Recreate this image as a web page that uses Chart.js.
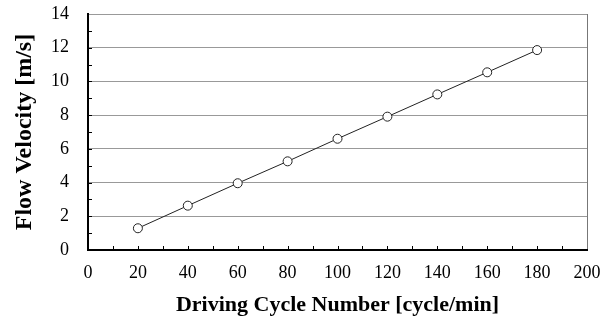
<!DOCTYPE html>
<html>
<head>
<meta charset="utf-8">
<script src="https://cdn.jsdelivr.net/npm/chart.js@4"></script>
<style>
  html, body { margin: 0; padding: 0; background: #fff; }
  #wrap { width: 610px; height: 323px; }
</style>
</head>
<body>
<div id="wrap"><canvas id="c" width="610" height="323"></canvas></div>
<script>
// Driving cycle number [cycle/min] vs. measured flow velocity [m/s]
const cycleNumbers = [20, 40, 60, 80, 100, 120, 140, 160, 180];
const flowVelocity = [1.29, 2.63, 3.96, 5.26, 6.60, 7.91, 9.23, 10.54, 11.86];
const xTickLabels = [0, 20, 40, 60, 80, 100, 120, 140, 160, 180, 200];
const yTickLabels = [0, 2, 4, 6, 8, 10, 12, 14];

const serif = "'Liberation Serif', 'Times New Roman', serif";

// small inward tick marks along the left and bottom axes
const minorTicks = {
  id: 'minorTicks',
  afterDatasetsDraw(chart) {
    const { ctx, scales: { x, y } } = chart;
    ctx.save();
    ctx.strokeStyle = '#000';
    ctx.lineWidth = 1;
    ctx.beginPath();
    for (let v = 10; v < 200; v += 10) {
      const px = Math.round(x.getPixelForValue(v)) + 0.5;
      ctx.moveTo(px, y.bottom);
      ctx.lineTo(px, y.bottom - 4);
    }
    for (let v = 1; v < 14; v += 1) {
      const py = Math.round(y.getPixelForValue(v)) + 0.5;
      ctx.moveTo(x.left, py);
      ctx.lineTo(x.left + 4, py);
    }
    ctx.stroke();
    ctx.restore();
  }
};

new Chart(document.getElementById('c'), {
  type: 'scatter',
  data: {
    datasets: [{
      data: cycleNumbers.map((c, i) => ({ x: c, y: flowVelocity[i] })),
      showLine: true,
      borderColor: '#222',
      borderWidth: 1,
      pointRadius: 4.5,
      pointHoverRadius: 4.5,
      pointBackgroundColor: '#fff',
      pointBorderColor: '#222',
      pointBorderWidth: 1
    }]
  },
  options: {
    responsive: false,
    animation: false,
    layout: { padding: { left: 0, right: 23, top: 14, bottom: 0 } },
    plugins: { legend: { display: false }, tooltip: { enabled: false } },
    scales: {
      x: {
        type: 'linear',
        min: 0, max: 200,
        afterBuildTicks: s => { s.ticks = xTickLabels.map(v => ({ value: v })); },
        afterFit: s => { s.height = 73; s.paddingLeft = 0; s.paddingRight = 0; },
        ticks: {
          color: '#000',
          padding: 12,
          maxRotation: 0,
          font: { family: serif, size: 18 }
        },
        grid: {
          drawTicks: false,
          color: ctx => (ctx.tick && ctx.tick.value === 200) ? '#777' : 'rgba(0,0,0,0)',
          lineWidth: 1
        },
        border: { display: true, color: '#000', width: 2 },
        title: {
          display: true,
          text: 'Driving Cycle Number [cycle/min]',
          color: '#000',
          font: { family: serif, size: 22, weight: 'bold' },
          padding: { top: 0, bottom: 4 }
        }
      },
      y: {
        type: 'linear',
        min: 0, max: 14,
        afterBuildTicks: s => { s.ticks = yTickLabels.map(v => ({ value: v })); },
        afterFit: s => { s.width = 88; s.paddingTop = 0; s.paddingBottom = 0; },
        ticks: {
          color: '#000',
          padding: 19,
          font: { family: serif, size: 18 }
        },
        grid: {
          drawTicks: false,
          color: ctx => (ctx.tick && ctx.tick.value === 0) ? 'rgba(0,0,0,0)' : '#999',
          lineWidth: 1
        },
        border: { display: true, color: '#000', width: 2 },
        title: {
          display: true,
          text: 'Flow Velocity [m/s]',
          color: '#000',
          font: { family: serif, size: 24, weight: 'bold' },
          padding: { top: 10, bottom: 0 }
        }
      }
    }
  },
  plugins: [minorTicks]
});
</script>
</body>
</html>
